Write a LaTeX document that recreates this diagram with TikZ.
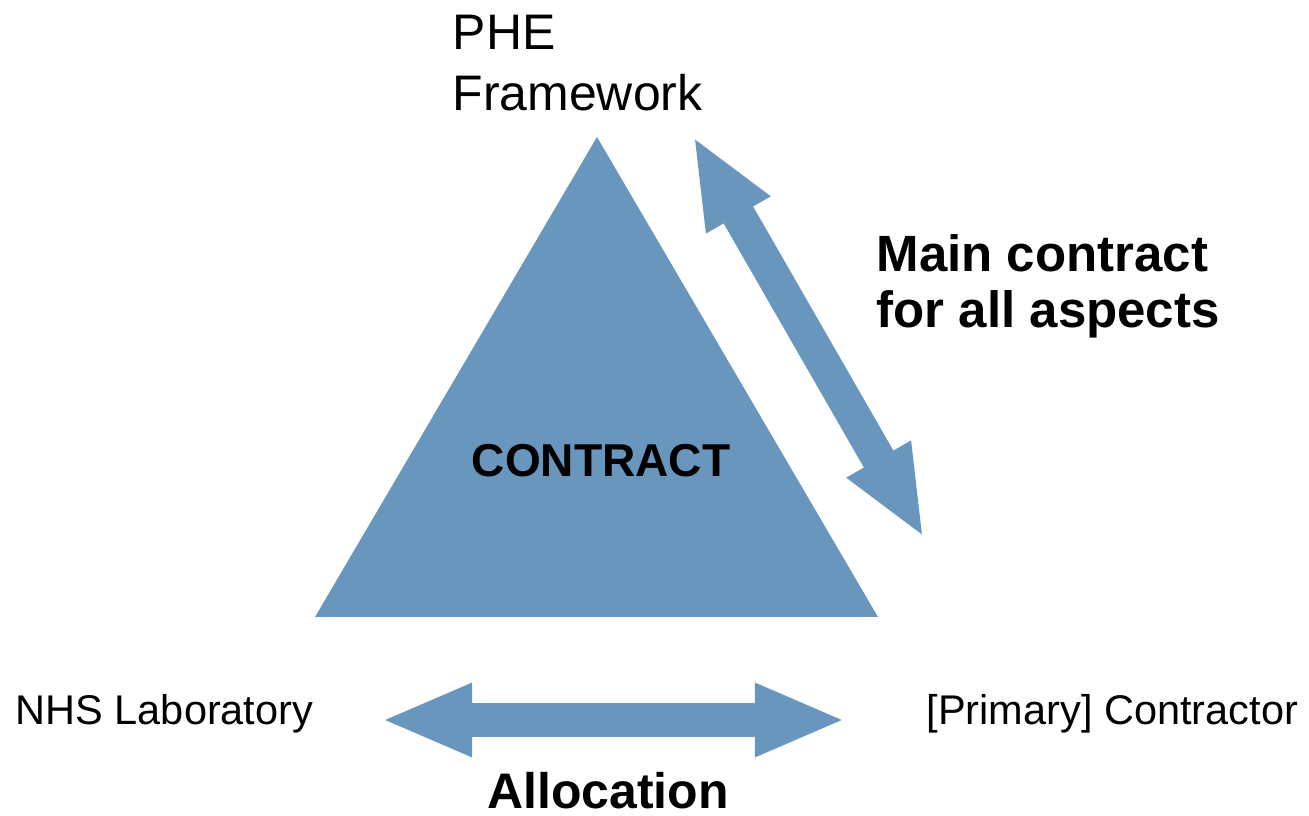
\documentclass[tikz,border=0pt]{standalone}
\usepackage{fontspec}
\setmainfont{Liberation Sans}
\usetikzlibrary{arrows.meta, positioning}
\definecolor{ctblue}{RGB}{105,150,189}

\begin{document}
\begin{tikzpicture}[x=0.01cm, y=-0.01cm,
  party/.style={inner sep=0pt, font=\fontsize{11.8}{14}\selectfont},
  topnote/.style={inner sep=0pt, align=left, font=\fontsize{14.2}{17.4}\selectfont},
  bignote/.style={inner sep=0pt, align=left, font=\fontsize{14.5}{15.9}\selectfont\bfseries},
  dblarr/.style={line width=0.34cm, draw=ctblue, {Triangle[length=0.91cm, width=0.67cm]}-{Triangle[length=0.91cm, width=0.67cm]}}
]
\useasboundingbox (0,0) rectangle (1309,816);
\fill[ctblue] (597,137) -- (878,617) -- (315,617) -- cycle;
\node[font=\fontsize{13.1}{15}\selectfont\bfseries, inner sep=0pt, anchor=base] (contract) at (601,477) {CONTRACT};
\node[topnote, anchor=north west] (phe) at (452,14) {PHE\\Framework};
\node[bignote, anchor=north west] (main) at (876,234) {Main contract\\for all aspects};
\node[party, anchor=base west] (nhs) at (15,725) {NHS Laboratory};
\node[party, anchor=base west] (prime) at (926,725) {[Primary] Contractor};
\node[font=\fontsize{14.2}{17}\selectfont\bfseries, inner sep=0pt, anchor=base] (alloc) at (608,808) {Allocation};
\coordinate (mainA) at (693,136);
\coordinate (mainB) at (924,538);
\coordinate (allocL) at (381,720);
\coordinate (allocR) at (846,720);
\draw[dblarr] (mainA) -- (mainB);
\draw[dblarr] (allocL) -- (allocR);
\end{tikzpicture}
\end{document}
